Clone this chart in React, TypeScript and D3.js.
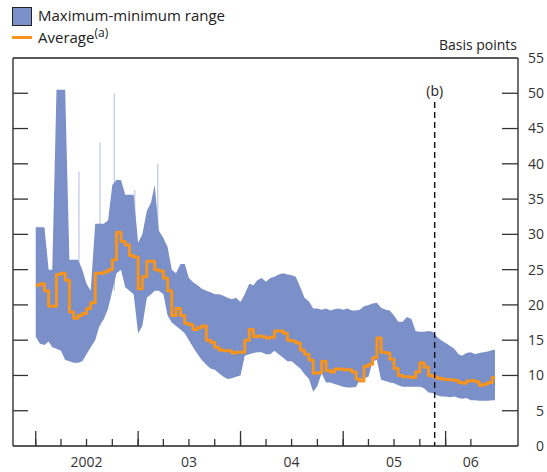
import React from 'react';
import * as d3 from 'd3';

// semi-monthly observations, 1 Jan 2002 .. 16 Jun 2006 (basis points)
const maxRange = [
  31, 31, 31, 25, 25, 50.5, 50.5, 50.5, 26.4, 26.4, 26.4, 25, 23, 22, 31.5, 31.5, 31.5, 32, 37, 37.7, 37.7, 35.6, 35.6, 35.6,
  28.8, 30, 33.3, 34.5, 37, 30.5, 29.5, 28.2, 25, 24.5, 25.8, 25.8, 23.8, 23.2, 22.8, 22.3, 22, 21.8, 21.5, 21.5, 21.3, 21, 20.8, 21,
  20.4, 21.5, 23, 22.8, 23.5, 23.8, 23.3, 23.8, 24, 24.3, 24.5, 24.3, 24.2, 24, 22.5, 21, 20.5, 19.5, 19.5, 19.3, 19.5, 19.2, 19.4, 19.5,
  19.3, 19.5, 19.2, 19.2, 19.3, 19.8, 20, 20.2, 20.3, 19.6, 19.3, 19.2, 18.5, 17.6, 17.6, 18.3, 18, 16.3, 16.2, 16.2, 16.3, 16.2, 15.5, 15,
  14.6, 14.2, 13.8, 13, 12.8, 13.2, 13.3, 13, 13.2, 13.3, 13.4, 13.6,
];
const minRange = [
  15.5, 14.5, 14.3, 14.8, 14, 13.8, 13.5, 12.2, 12, 11.8, 11.8, 12, 13, 14, 15, 17, 18, 19.5, 22, 24.5, 25, 22.5, 22, 21.5,
  16, 17, 21, 21.5, 22, 22, 21.5, 18.5, 17.5, 17, 16.5, 16, 15, 14, 13, 12.2, 11.5, 11, 10.8, 10.3, 9.8, 9.5, 9.6, 9.8,
  10, 12.8, 13, 13.2, 13.3, 13.3, 13, 13, 13.5, 13, 12.5, 12, 12, 11.5, 11, 10.2, 9.5, 7.7, 8.5, 10.3, 9, 9, 8.8, 8.6,
  8.4, 8.3, 8.3, 8.4, 9.4, 9.6, 9.8, 12, 12.2, 9.4, 9.2, 9, 8.9, 8.6, 8.4, 8.4, 8.4, 8.4, 8.4, 8.2, 7.6, 7.5, 7.2, 7,
  7, 6.9, 7, 6.8, 6.7, 6.8, 6.5, 6.5, 6.4, 6.4, 6.4, 6.5,
];
const average = [
  22.8, 23, 22, 19.8, 19.8, 24.3, 24.5, 23.5, 19, 18.1, 18.5, 18.8, 19.5, 20.3, 24.5, 24.5, 24.7, 25, 26.4, 30.3, 29, 28.5, 27, 26.8,
  22.3, 24, 26.2, 26.2, 25, 24.8, 23.8, 22, 18.5, 19.5, 18.5, 17.4, 17.2, 16.5, 16.8, 17, 15, 14.7, 14, 13.6, 13.5, 13.5, 13.2, 13.3,
  13.3, 15, 16.5, 15.5, 15.6, 15.5, 15.3, 15.4, 16.3, 16.3, 16, 15, 14.9, 14.6, 13.6, 13, 12.2, 10.3, 10.4, 12, 10.7, 10.5, 10.9, 10.9,
  10.8, 10.8, 10.5, 9.5, 9.2, 11.3, 11.6, 12.5, 15.3, 13.3, 13.2, 12.3, 11, 10, 9.8, 9.8, 9.7, 10.5, 11.8, 11.2, 10, 9.8, 9.6, 9.5,
  9.4, 9.4, 9.3, 9, 8.9, 9.2, 9.3, 9.1, 8.6, 8.8, 9, 9.7,
];
const obsDates = maxRange.map((_, k) => new Date(2002, Math.floor(k / 2), k % 2 ? 16 : 1));
const lastDate = '2006-06-26';

// single-day highs
const spikeDates = ['2002-06-04', '2002-08-18', '2002-10-08', '2002-12-20', '2003-03-12'];
const spikeValues = [38.9, 43, 50, 36.3, 40];

const yTicks = [0, 5, 10, 15, 20, 25, 30, 35, 40, 45, 50, 55];
const yearTickDates = ['2002-01-01', '2003-01-01', '2004-01-01', '2005-01-01', '2006-01-01'];
const yearLabels = ['2002', '03', '04', '05', '06'];
const yearLabelDates = ['2002-07-01', '2003-07-01', '2004-07-01', '2005-07-01', '2006-04-01'];
const breakDate = '2005-11-23';

const parse = d3.timeParse('%Y-%m-%d');
const BAND = '#7b8fc8';
const ORANGE = '#f7941e';
const FONT = 'Open Sans, sans-serif';

export default function App() {
  const width = 547, height = 472;
  const left = 13, right = 518, top = 58, bottom = 446;

  const x = d3.scaleTime()
    .domain([parse('2001-10-12')!, parse('2006-09-16')!])
    .range([left, right]);
  const y = d3.scaleLinear().domain([0, 55]).range([bottom, top]);

  const rows = obsDates.map((d, i) => ({ d, hi: maxRange[i], lo: minRange[i], avg: average[i] }));
  // repeat final observation so the series reaches the last trading day
  const n = rows.length - 1;
  const rowsEnd = [...rows, { ...rows[n], d: parse(lastDate)! }];

  const area = d3.area<typeof rows[0]>()
    .x(r => x(r.d))
    .y0(r => y(r.lo))
    .y1(r => y(r.hi));
  const line = d3.line<typeof rows[0]>()
    .curve(d3.curveStepAfter)
    .x(r => x(r.d))
    .y(r => y(r.avg));

  const quarterTicks = d3.timeMonth.every(3)!.range(parse('2002-01-01')!, parse('2006-07-01')!);
  const bisect = d3.bisector((r: typeof rows[0]) => r.d).right;

  return (
    <svg width={width} height={height} style={{ position: 'absolute', left: 0, top: 0, fontFamily: FONT }}>
      <rect width={width} height={height} fill="#fff" />

      {/* legend */}
      <rect x={12.5} y={7.5} width={19} height={18} fill={BAND} stroke="#222" strokeWidth={1} />
      <text x={38} y={21} fontSize={15} fill="#222">Maximum-minimum range</text>
      <line x1={12} x2={32} y1={37.5} y2={37.5} stroke={ORANGE} strokeWidth={3} />
      <text x={38} y={43} fontSize={15} fill="#222">
        Average<tspan fontSize={12} dy={-6}>(a)</tspan>
      </text>

      <text x={517} y={50} fontSize={14} textAnchor="end" fill="#222">Basis points</text>

      {/* spikes behind band */}
      {spikeDates.map((s, i) => {
        const dt = parse(s)!;
        const j = Math.max(0, bisect(rows, dt) - 1);
        return (
          <line key={s} x1={x(dt)} x2={x(dt)} y1={y(spikeValues[i])} y2={y(rows[j].lo)}
            stroke={BAND} strokeOpacity={0.5} strokeWidth={1.2} />
        );
      })}

      <path d={area(rowsEnd)!} fill={BAND} />
      <path d={line(rowsEnd)!} fill="none" stroke={ORANGE} strokeWidth={3} strokeLinejoin="round" />

      {/* break marker */}
      <line x1={x(parse(breakDate)!)} x2={x(parse(breakDate)!)} y1={102} y2={bottom}
        stroke="#111" strokeWidth={1.4} strokeDasharray="6,4" />
      <text x={x(parse(breakDate)!)} y={96} fontSize={14} textAnchor="middle" fill="#222">(b)</text>

      {/* frame */}
      <line x1={left} x2={right} y1={top} y2={top} stroke="#222" strokeWidth={1.3} />
      <line x1={left} x2={right} y1={bottom} y2={bottom} stroke="#222" strokeWidth={1.3} />
      <line x1={left} x2={left} y1={top} y2={bottom} stroke="#222" strokeWidth={1.3} />
      <line x1={right} x2={right} y1={top} y2={bottom} stroke="#222" strokeWidth={1.3} />

      {/* y ticks both sides */}
      {yTicks.filter(t => t > 0 && t < 55).map(t => (
        <g key={t}>
          <line x1={left} x2={left + 15} y1={y(t)} y2={y(t)} stroke="#333" strokeWidth={1.3} />
          <line x1={right - 16} x2={right} y1={y(t)} y2={y(t)} stroke="#333" strokeWidth={1.3} />
        </g>
      ))}
      {yTicks.map(t => (
        <text key={t} x={544} y={y(t)} dy="0.35em" fontSize={14} textAnchor="end" fill="#333">{t}</text>
      ))}

      {/* x ticks */}
      {quarterTicks.map(d => (
        <line key={+d} x1={x(d)} x2={x(d)} y1={bottom} y2={bottom - 7} stroke="#333" strokeWidth={1.3} />
      ))}
      {yearTickDates.map(s => (
        <line key={s} x1={x(parse(s)!)} x2={x(parse(s)!)} y1={bottom} y2={bottom - 15} stroke="#333" strokeWidth={1.3} />
      ))}
      {yearLabels.map((l, i) => (
        <text key={l} x={x(parse(yearLabelDates[i])!)} y={467} fontSize={14} textAnchor="middle" fill="#333">{l}</text>
      ))}
    </svg>
  );
}
